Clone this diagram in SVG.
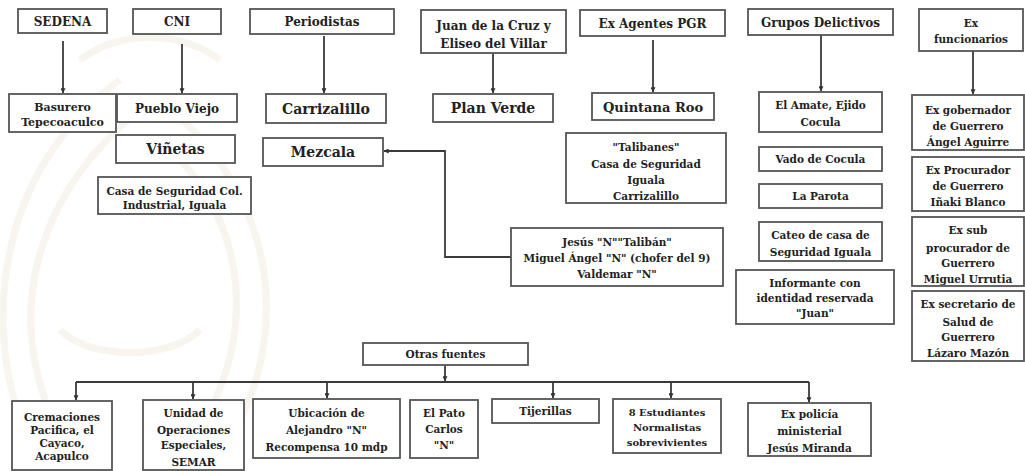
<svg xmlns="http://www.w3.org/2000/svg" width="1025" height="471" viewBox="0 0 1025 471">
<defs>
<marker id="ah" viewBox="0 0 8 8" refX="7.5" refY="4" markerWidth="5" markerHeight="5" orient="auto" markerUnits="userSpaceOnUse">
<path d="M0,0 L8,4 L0,8 z" fill="#333"/>
</marker>
<style>
rect{fill:#fff;stroke:#555;stroke-width:1.8}
text{font-family:"DejaVu Serif","Liberation Serif",serif;font-weight:bold;fill:#222;text-anchor:middle;font-size:11px}
.c line,.c path{stroke:#3a3a3a;stroke-width:1.8;fill:none}
.a{marker-end:url(#ah)}
.wm{fill:none;stroke:#f4ece2;stroke-width:7;opacity:0.6}
.s12{font-size:12px}
.s13{font-size:13px}
.s14{font-size:14px}
.s105{font-size:10.5px}
.s10{font-size:10px}
</style>
</defs>
<rect x="0" y="0" width="1025" height="471" style="fill:#fff;stroke:none"/>
<g id="watermark">
<path class="wm" d="M20,420 C-20,300 10,160 120,80"/>
<path class="wm" d="M45,400 C10,300 40,190 140,110"/>
<path class="wm" d="M240,420 C290,320 270,190 170,110"/>
<path class="wm" d="M215,400 C255,310 240,210 160,140"/>
<path class="wm" d="M80,60 C120,30 180,30 220,60"/>
<path class="wm" d="M60,330 C90,360 170,360 200,330"/>
</g>
<g class="c" id="connectors">
<line class="a" x1="63" y1="41" x2="63" y2="93"/>
<line class="a" x1="182" y1="44" x2="182" y2="93"/>
<line class="a" x1="324" y1="36" x2="324" y2="93"/>
<line class="a" x1="493" y1="53" x2="493" y2="93"/>
<line class="a" x1="653" y1="40" x2="653" y2="92"/>
<line class="a" x1="821" y1="35" x2="821" y2="91"/>
<line class="a" x1="973" y1="51" x2="973" y2="94"/>
<path class="a" d="M511,257 H445 V151 H384"/>
<line class="a" x1="445" y1="365" x2="445" y2="381"/>
<line x1="76" y1="382" x2="809" y2="382"/>
<line class="a" x1="76" y1="382" x2="76" y2="400"/>
<line class="a" x1="193" y1="382" x2="193" y2="399"/>
<line class="a" x1="327" y1="382" x2="327" y2="398"/>
<line class="a" x1="553" y1="382" x2="553" y2="398"/>
<line class="a" x1="671" y1="382" x2="671" y2="398"/>
<line class="a" x1="809" y1="382" x2="809" y2="402"/>
</g>
<g id="sedena"><rect x="18" y="9" width="89" height="24"/><text class="s12" x="62.5" y="25.5">SEDENA</text></g>
<g id="cni"><rect x="133" y="9" width="88" height="25"/><text class="s12" x="177" y="26">CNI</text></g>
<g id="periodistas"><rect x="250" y="9" width="144" height="25"/><text class="s12" x="322" y="26">Periodistas</text></g>
<g id="juan"><rect x="421" y="10" width="145" height="43"/><text x="493.5" y="29.5" class="s12"><tspan x="493.5">Juan de la Cruz y</tspan><tspan x="493.5" y="48">Eliseo del Villar</tspan></text></g>
<g id="exagentes"><rect x="580" y="10" width="145" height="26"/><text class="s12" x="652.5" y="27.5">Ex Agentes PGR</text></g>
<g id="grupos"><rect x="748" y="9" width="145" height="26"/><text class="s12" x="820.5" y="26.5">Grupos Delictivos</text></g>
<g id="exfuncionarios"><rect x="919" y="9" width="104" height="42"/><text class="s105" x="971" y="27"><tspan x="971">Ex</tspan><tspan x="971" y="43">funcionarios</tspan></text></g>

<g id="basurero"><rect x="9" y="94" width="107" height="38"/><text x="62.5" y="111"><tspan x="62.5">Basurero</tspan><tspan x="62.5" y="126">Tepecoaculco</tspan></text></g>
<g id="pueblo"><rect x="117" y="94" width="120" height="28"/><text class="s12" x="177" y="112.5">Pueblo Viejo</text></g>
<g id="vinetas"><rect x="116" y="135" width="119" height="28"/><text class="s14" x="175.5" y="154">Viñetas</text></g>
<g id="casacol"><rect x="98" y="177" width="153" height="37"/><text class="s105" x="174.5" y="195"><tspan x="174.5">Casa de Seguridad Col.</tspan><tspan x="174.5" y="209">Industrial, Iguala</tspan></text></g>
<g id="carrizalillo"><rect x="266" y="94" width="120" height="29"/><text class="s14" x="326" y="113.5">Carrizalillo</text></g>
<g id="mezcala"><rect x="263" y="138" width="120" height="28"/><text class="s14" x="323" y="157">Mezcala</text></g>
<g id="planverde"><rect x="433" y="94" width="120" height="28"/><text class="s14" x="493" y="113">Plan Verde</text></g>
<g id="quintana"><rect x="592" y="93" width="122" height="27"/><text class="s13" x="653" y="111.5">Quintana Roo</text></g>
<g id="talibanes"><rect x="566" y="133" width="160" height="70"/><text class="s105" x="646" y="151"><tspan x="646">"Talibanes"</tspan><tspan x="646" y="167.5">Casa de Seguridad</tspan><tspan x="646" y="184">Iguala</tspan><tspan x="646" y="200">Carrizalillo</tspan></text></g>
<g id="jesus"><rect x="511" y="228" width="212" height="58"/><text class="s105" x="617" y="246"><tspan x="617">Jesús "N""Talibán"</tspan><tspan x="617" y="261.5">Miguel Ángel "N" (chofer del 9)</tspan><tspan x="617" y="277.5">Valdemar "N"</tspan></text></g>

<g id="amate"><rect x="759" y="92" width="123" height="40"/><text class="s105" x="820.5" y="109"><tspan x="820.5">El Amate, Ejido</tspan><tspan x="820.5" y="126">Cocula</tspan></text></g>
<g id="vado"><rect x="759" y="147" width="123" height="24"/><text class="s105" x="820.5" y="163">Vado de Cocula</text></g>
<g id="parota"><rect x="759" y="184" width="123" height="24"/><text class="s105" x="820.5" y="200">La Parota</text></g>
<g id="cateo"><rect x="759" y="222" width="123" height="39"/><text class="s105" x="820.5" y="239"><tspan x="820.5">Cateo de casa de</tspan><tspan x="820.5" y="256">Seguridad Iguala</tspan></text></g>
<g id="informante"><rect x="736" y="270" width="158" height="54"/><text class="s105" x="815" y="287"><tspan x="815">Informante con</tspan><tspan x="815" y="302">identidad reservada</tspan><tspan x="815" y="317">"Juan"</tspan></text></g>

<g id="exgobernador"><rect x="912" y="95" width="112" height="55"/><text class="s105" x="968" y="114"><tspan x="968">Ex gobernador</tspan><tspan x="968" y="130">de Guerrero</tspan><tspan x="968" y="146">Ángel Aguirre</tspan></text></g>
<g id="exprocurador"><rect x="912" y="157" width="112" height="54"/><text class="s105" x="968" y="174"><tspan x="968">Ex Procurador</tspan><tspan x="968" y="190">de Guerrero</tspan><tspan x="968" y="205.5">Iñaki Blanco</tspan></text></g>
<g id="exsub"><rect x="912" y="217" width="112" height="69"/><text class="s105" x="968" y="234"><tspan x="968">Ex sub</tspan><tspan x="968" y="251.5">procurador  de</tspan><tspan x="968" y="267">Guerrero</tspan><tspan x="968" y="283">Miguel Urrutia</tspan></text></g>
<g id="exsecretario"><rect x="912" y="291" width="112" height="70"/><text class="s105" x="968" y="308"><tspan x="968">Ex secretario de</tspan><tspan x="968" y="325.5">Salud de</tspan><tspan x="968" y="341">Guerrero</tspan><tspan x="968" y="357">Lázaro Mazón</tspan></text></g>

<g id="otras"><rect x="363" y="343" width="165" height="22"/><text class="s105" x="445.5" y="358">Otras fuentes</text></g>
<g id="cremaciones"><rect x="12" y="401" width="100" height="69"/><text class="s105" x="62" y="421"><tspan x="62">Cremaciones</tspan><tspan x="62" y="434">Pacifica, el</tspan><tspan x="62" y="447">Cayaco,</tspan><tspan x="62" y="460">Acapulco</tspan></text></g>
<g id="unidad"><rect x="143" y="400" width="101" height="70"/><text class="s105" x="193.5" y="417"><tspan x="193.5">Unidad de</tspan><tspan x="193.5" y="433.5">Operaciones</tspan><tspan x="193.5" y="449">Especiales,</tspan><tspan x="193.5" y="465.5">SEMAR</tspan></text></g>
<g id="ubicacion"><rect x="253" y="399" width="147" height="59"/><text class="s105" x="326.5" y="417"><tspan x="326.5">Ubicación de</tspan><tspan x="326.5" y="434">Alejandro "N"</tspan><tspan x="326.5" y="451">Recompensa 10 mdp</tspan></text></g>
<g id="elpato"><rect x="410" y="400" width="68" height="58"/><text class="s105" x="444" y="417"><tspan x="444">El Pato</tspan><tspan x="444" y="433">Carlos</tspan><tspan x="444" y="449">"N"</tspan></text></g>
<g id="tijerillas"><rect x="492" y="399" width="107" height="24"/><text class="s105" x="545.5" y="415">Tijerillas</text></g>
<g id="estudiantes"><rect x="613" y="399" width="108" height="54"/><text class="s10" x="667" y="416"><tspan x="667">8 Estudiantes</tspan><tspan x="667" y="431">Normalistas</tspan><tspan x="667" y="445.5">sobrevivientes</tspan></text></g>
<g id="expolicia"><rect x="748" y="403" width="123" height="53"/><text class="s105" x="809.5" y="418"><tspan x="809.5">Ex policía</tspan><tspan x="809.5" y="435">ministerial</tspan><tspan x="809.5" y="452">Jesús Miranda</tspan></text></g>
</svg>
